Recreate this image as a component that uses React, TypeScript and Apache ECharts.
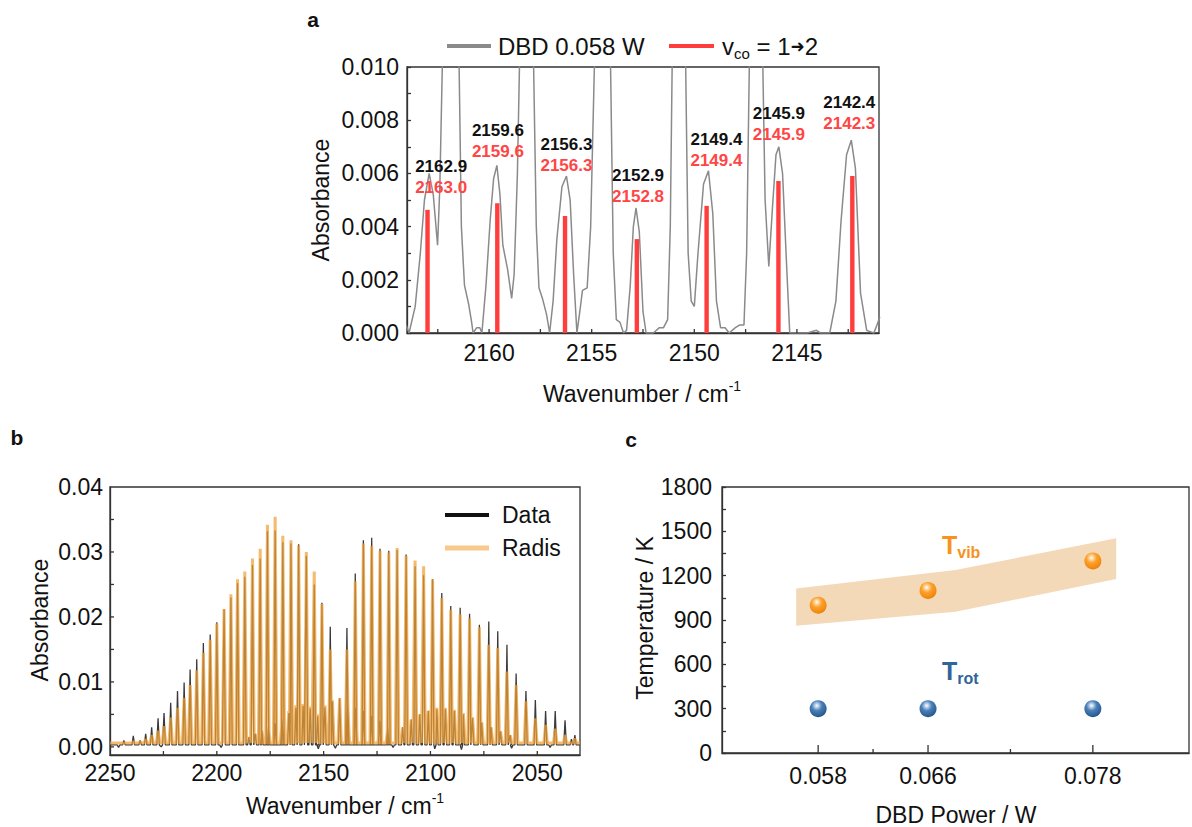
import React, { useEffect, useRef } from 'react';
import * as echarts from 'echarts';

const FONT = '"Liberation Sans", Arial, Helvetica, sans-serif';
const INK = '#111111';
const AXIS = '#333333';

// ---------- Panel a : DBD 0.058 W spectrum (wavenumber, absorbance) ----------
const aTrace: [number, number][] = [
  [2164.04, 0.0003], [2163.9, 0.0], [2163.6, 0.001], [2163.35, 0.003], [2163.15, 0.005],
  [2162.92, 0.006], [2162.72, 0.0052], [2162.51, 0.0033], [2162.4, 0.0055], [2162.28, 0.01],
  [2162.2, 0.015], [2161.87, 0.03], [2161.55, 0.015], [2161.46, 0.01], [2161.35, 0.004],
  [2161.2, 0.0018], [2161.0, 0.0011], [2160.85, 0.0004], [2160.78, 0.0], [2160.6, 0.0002],
  [2160.45, 0.0002], [2160.35, 0.0], [2160.15, 0.0018], [2159.95, 0.0042], [2159.78, 0.0058],
  [2159.62, 0.0063], [2159.47, 0.0052], [2159.33, 0.0033], [2159.1, 0.0024], [2158.9, 0.0013],
  [2158.78, 0.0022], [2158.62, 0.006], [2158.52, 0.01], [2158.45, 0.015], [2158.17, 0.03],
  [2157.9, 0.015], [2157.83, 0.01], [2157.7, 0.004], [2157.57, 0.0017], [2157.4, 0.0013],
  [2157.2, 0.0007], [2157.05, 0.0], [2156.88, 0.0012], [2156.7, 0.0035], [2156.45, 0.0055],
  [2156.23, 0.0059], [2156.05, 0.005], [2155.88, 0.0022], [2155.72, 0.0], [2155.58, 0.0008],
  [2155.45, 0.0016], [2155.22, 0.0017], [2155.05, 0.004], [2154.87, 0.01], [2154.8, 0.015],
  [2154.47, 0.03], [2154.15, 0.015], [2154.08, 0.01], [2153.95, 0.003], [2153.8, 0.0005],
  [2153.62, 0.0004], [2153.45, 0.0], [2153.3, 0.0001], [2153.12, 0.0018], [2152.97, 0.004],
  [2152.84, 0.0047], [2152.68, 0.0038], [2152.5, 0.0008], [2152.35, 0.0], [2152.0, 0.0],
  [2151.7, 0.0002], [2151.5, 0.0002], [2151.3, 0.0005], [2151.17, 0.004], [2151.08, 0.01],
  [2151.02, 0.015], [2150.75, 0.03], [2150.48, 0.015], [2150.42, 0.01], [2150.3, 0.003],
  [2150.15, 0.0012], [2150.0, 0.001], [2149.82, 0.003], [2149.55, 0.0056], [2149.31, 0.0061],
  [2149.1, 0.0045], [2148.92, 0.0012], [2148.72, 0.0002], [2148.5, 0.0002], [2148.3, 0.0],
  [2148.0, 0.0002], [2147.8, 0.0003], [2147.58, 0.0003], [2147.45, 0.003], [2147.32, 0.01],
  [2147.25, 0.015], [2146.97, 0.03], [2146.72, 0.015], [2146.66, 0.01], [2146.55, 0.005],
  [2146.37, 0.0025], [2146.2, 0.0046], [2146.02, 0.0067], [2145.88, 0.007], [2145.7, 0.006],
  [2145.5, 0.0025], [2145.35, 0.0], [2144.5, 0.0], [2144.05, 0.0001], [2143.85, 0.0],
  [2143.4, 0.0], [2143.1, 0.0012], [2142.85, 0.0042], [2142.58, 0.0067], [2142.35, 0.00725],
  [2142.15, 0.0062], [2141.9, 0.0015], [2141.6, 0.0001], [2141.25, 0.0], [2141.1, 0.0003],
  [2140.96, 0.0006],
];
const aBarPos = [2163.0, 2159.6, 2156.3, 2152.8, 2149.4, 2145.9, 2142.3];
const aBarHeight = [0.00463, 0.00488, 0.0044, 0.00353, 0.00478, 0.00571, 0.0059];
const aPeakPos = [2162.92, 2159.62, 2156.23, 2152.84, 2149.31, 2145.88, 2142.35];
const aPeakHeight = [0.006, 0.0063, 0.0059, 0.0047, 0.0061, 0.007, 0.00725];
const aPeakLabelBlack = ['2162.9', '2159.6', '2156.3', '2152.9', '2149.4', '2145.9', '2142.4'];
const aPeakLabelRed = ['2163.0', '2159.6', '2156.3', '2152.8', '2149.4', '2145.9', '2142.3'];
const aXLabels = [2160, 2155, 2150, 2145];
const aXTicks = [2162.5, 2160, 2157.5, 2155, 2152.5, 2150, 2147.5, 2145, 2142.5];

// ---------- Panel b : CO band, measured vs Radis ----------
const bMainPos = [
  2239.1, 2235.9, 2233.3, 2230.5, 2227.5, 2224.7, 2221.6, 2218.4, 2215.3, 2212.5,
  2209.4, 2206.3, 2203.1, 2200.0, 2196.6, 2193.4, 2190.3, 2186.9, 2183.3, 2179.7,
  2176.3, 2172.7, 2169.1, 2165.3, 2161.7, 2158.1, 2154.4, 2150.8, 2146.9,
  2139.1, 2135.2, 2131.4, 2127.5, 2123.6, 2119.5, 2115.6, 2111.4, 2107.2, 2103.2,
  2099.0, 2094.7, 2090.5, 2086.1, 2081.7, 2077.1, 2072.7, 2068.5, 2064.2, 2059.9,
  2055.3, 2050.9, 2046.1, 2041.6, 2037.0, 2032.4,
];
const bDataMain = [
  0.0017, 0.001, 0.002, 0.003, 0.0044, 0.0052, 0.0068, 0.0086, 0.0099, 0.0119,
  0.0135, 0.016, 0.0173, 0.0192, 0.0212, 0.023, 0.0252, 0.0262, 0.028, 0.029,
  0.0332, 0.0333, 0.0315, 0.0313, 0.0312, 0.0294, 0.025, 0.0222, 0.0185,
  0.0183, 0.0267, 0.0318, 0.0322, 0.0305, 0.0302, 0.0303, 0.0296, 0.0278, 0.0264,
  0.0258, 0.0237, 0.0217, 0.0214, 0.0205, 0.0188, 0.0193, 0.0178, 0.0157, 0.0113,
  0.0086, 0.0072, 0.0055, 0.0055, 0.0041, 0.0018,
];
const bRadisMain = [
  0.0008, 0.0008, 0.0012, 0.0018, 0.0025, 0.0032, 0.0045, 0.006, 0.0075, 0.0095,
  0.0118, 0.0145, 0.0165, 0.019, 0.0212, 0.0235, 0.0258, 0.027, 0.029, 0.0305,
  0.0342, 0.0354, 0.0325, 0.0318, 0.031, 0.03, 0.027, 0.022, 0.015,
  0.015, 0.0255, 0.0313, 0.0309, 0.0302, 0.0299, 0.0306, 0.0294, 0.0287, 0.0278,
  0.0258, 0.0229, 0.0211, 0.0204, 0.0198, 0.0184, 0.0157, 0.0152, 0.0116, 0.0095,
  0.007, 0.0044, 0.0034, 0.0028, 0.0018, 0.0013,
];
const bHotPos = [
  2185.0, 2182.0, 2178.9, 2175.8, 2172.7, 2169.5, 2166.3, 2163.0, 2159.6, 2156.3,
  2152.8, 2149.4, 2145.9, 2142.5, 2138.7, 2135.0, 2131.3, 2127.6, 2123.8, 2120.0,
  2113.0, 2109.0, 2105.0, 2101.0, 2097.0, 2093.0, 2088.8, 2084.6, 2080.3, 2076.0,
  2071.6, 2067.2, 2062.7,
];
const bDataHot = [
  0.0015, 0.002, 0.0025, 0.003, 0.0036, 0.0042, 0.0052, 0.006, 0.0063, 0.0059,
  0.0047, 0.0061, 0.007, 0.0075, 0.0065, 0.006, 0.0055, 0.0048, 0.004, 0.003,
  0.003, 0.0042, 0.005, 0.0055, 0.0058, 0.0058, 0.0055, 0.005, 0.0044, 0.0037,
  0.003, 0.0024, 0.0018,
];
const bRadisHot = [
  0.0015, 0.002, 0.0025, 0.003, 0.0036, 0.0044, 0.0055, 0.0064, 0.0066, 0.0062,
  0.005, 0.0064, 0.0072, 0.0075, 0.0066, 0.006, 0.0055, 0.0048, 0.004, 0.003,
  0.003, 0.0042, 0.005, 0.0056, 0.006, 0.006, 0.0057, 0.0052, 0.0046, 0.0038,
  0.003, 0.0024, 0.0018,
];
const bNoisePos = [2246.0, 2243.5, 2226.0, 2198.0, 2152.5, 2144.5, 2117.5, 2098.0, 2085.5, 2062.0, 2044.0, 2034.0];
const bNoiseVal = [-0.0004, 0.0007, -0.0003, -0.0004, -0.0006, -0.0005, -0.0004, -0.0006, -0.0007, -0.0005, -0.0004, 0.0009];
const bXTicks = [2225, 2200, 2175, 2150, 2125, 2100, 2075, 2050];
const bYTicks = [0, 0.005, 0.01, 0.015, 0.02, 0.025, 0.03, 0.035];

// ---------- Panel c : temperatures ----------
const cPower = [0.058, 0.066, 0.078];
const cTvib = [1000, 1100, 1300];
const cTrot = [300, 300, 300];
const cBandX = [0.0564, 0.068, 0.0797];
const cBandUpper = [1114, 1238, 1453];
const cBandLower = [861, 956, 1177];
const cMinorTicks = [0.062, 0.072];

const isMult = (v: number, step: number) => Math.abs(v / step - Math.round(v / step)) < 1e-6;

function stick(pos: number[], h: number[], hw: number, base: number, lo: number, hi: number) {
  const pts = pos.map((p, i) => [p, h[i]]).sort((a, b) => b[0] - a[0]);
  const out: number[][] = [[hi, base]];
  for (const [p, v] of pts) out.push([p + hw, base], [p, v], [p - hw, base]);
  out.push([lo, base]);
  return out;
}

const tickLabel = (size = 23) => ({ fontSize: size, color: INK, fontFamily: FONT });
const axisLineStyle = { color: AXIS, width: 1.3 };

function sphere(c: string[]) {
  return new echarts.graphic.RadialGradient(0.42, 0.32, 0.72, [
    { offset: 0, color: '#ffffff' },
    { offset: 0.16, color: c[0] },
    { offset: 0.42, color: c[1] },
    { offset: 0.85, color: c[2] },
    { offset: 1, color: c[3] },
  ]);
}

function xTickSeries(axis: number, vals: number[], yBase: number, len: number) {
  return {
    type: 'custom', xAxisIndex: axis, yAxisIndex: axis, z: 6, clip: false,
    data: vals.map((v) => [v, yBase]),
    renderItem: (params: any, api: any) => {
      const p = api.coord([api.value(0), api.value(1)]);
      return { type: 'line', shape: { x1: p[0], y1: p[1], x2: p[0], y2: p[1] - len }, style: { stroke: AXIS, lineWidth: 1.3 } };
    },
  };
}
function yTickSeries(axis: number, vals: number[], xBase: number, len: number) {
  return {
    type: 'custom', xAxisIndex: axis, yAxisIndex: axis, z: 6, clip: false,
    data: vals.map((v) => [xBase, v]),
    renderItem: (params: any, api: any) => {
      const p = api.coord([api.value(0), api.value(1)]);
      return { type: 'line', shape: { x1: p[0], y1: p[1], x2: p[0] + len, y2: p[1] }, style: { stroke: AXIS, lineWidth: 1.3 } };
    },
  };
}

function buildOption() {
  const bLo = 2030, bHi = 2250;
  const bData = stick(
    [...bMainPos, ...bHotPos, ...bNoisePos],
    [...bDataMain, ...bDataHot, ...bNoiseVal.map((v) => v + 0.0003)],
    0.6, 0.0003, bLo, bHi,
  );
  const bRadis = stick([...bMainPos, ...bHotPos], [...bRadisMain, ...bRadisHot], 0.8, 0.0006, bLo, bHi);

  const labelOffsets = [[12, 27], [1, -1], [0, 2], [2, 1], [8, 2], [0, 0], [-2, -4]];

  const text = (x: number, y: number, t: string, extra: any = {}, rot = 0) => ({
    type: 'text', x, y, rotation: rot,
    style: { text: t, fontFamily: FONT, fontSize: 23, fill: INK, align: 'center', verticalAlign: 'middle', ...extra },
  });
  const wavenumberName = (x: number, y: number) => ({
    type: 'text', x, y,
    style: {
      text: '{n|Wavenumber / cm}{s|-1}', align: 'center', verticalAlign: 'middle',
      rich: {
        n: { fontSize: 23, fontFamily: FONT, fill: INK, lineHeight: 30 },
        s: { fontSize: 14, fontFamily: FONT, fill: INK, lineHeight: 14, verticalAlign: 'top' },
      },
    },
  });
  const tempLabel = (x: number, y: number, sub: string, color: string) => ({
    type: 'text', x, y,
    style: {
      text: `{t|T}{s|${sub}}`, align: 'left', verticalAlign: 'middle',
      rich: {
        t: { fontSize: 25, fontFamily: FONT, fill: color, fontWeight: 'bold', lineHeight: 30 },
        s: { fontSize: 16, fontFamily: FONT, fill: color, fontWeight: 'bold', lineHeight: 16, verticalAlign: 'bottom' },
      },
    },
  });

  const gridBase = { show: true, borderColor: AXIS, borderWidth: 1.3, backgroundColor: 'transparent' };

  return {
    animation: false,
    backgroundColor: '#ffffff',
    textStyle: { fontFamily: FONT },
    grid: [
      { left: 407, top: 67, width: 472, height: 266, ...gridBase },
      { left: 110, top: 487, width: 470, height: 268, ...gridBase },
      { left: 722, top: 487, width: 468, height: 266, ...gridBase },
    ],
    xAxis: [
      {
        type: 'value', gridIndex: 0, min: 2141, max: 2164, inverse: true, interval: 0.5,
        axisLine: { show: true, onZero: false, lineStyle: axisLineStyle },
        axisTick: { show: false }, splitLine: { show: false },
        axisLabel: { ...tickLabel(), margin: 8, formatter: (v: number) => (aXLabels.some((t) => Math.abs(t - v) < 1e-6) ? String(Math.round(v)) : '') },
      },
      {
        type: 'value', gridIndex: 1, min: bLo, max: bHi, inverse: true, interval: 5,
        axisLine: { show: true, onZero: false, lineStyle: axisLineStyle },
        axisTick: { show: false }, splitLine: { show: false },
        axisLabel: { ...tickLabel(), margin: 6, formatter: (v: number) => (isMult(v, 50) ? String(Math.round(v)) : '') },
      },
      {
        type: 'value', gridIndex: 2, min: 0.051, max: 0.085, interval: 0.001,
        axisLine: { show: true, onZero: false, lineStyle: axisLineStyle },
        axisTick: { show: false }, splitLine: { show: false },
        axisLabel: { ...tickLabel(), margin: 11, formatter: (v: number) => (cPower.some((p) => Math.abs(p - v) < 1e-7) ? v.toFixed(3) : '') },
      },
    ],
    yAxis: [
      {
        type: 'value', gridIndex: 0, min: 0, max: 0.01, interval: 0.001,
        axisLine: { show: true, onZero: false, lineStyle: axisLineStyle },
        axisTick: { show: true, inside: true, length: 4, lineStyle: axisLineStyle },
        splitLine: { show: false },
        axisLabel: { ...tickLabel(), margin: 8, formatter: (v: number) => (isMult(v, 0.002) ? v.toFixed(3) : '') },
      },
      {
        type: 'value', gridIndex: 1, min: -0.00125, max: 0.04, interval: 0.00125,
        axisLine: { show: true, onZero: false, lineStyle: axisLineStyle },
        axisTick: { show: false }, splitLine: { show: false },
        axisLabel: {
          ...tickLabel(), margin: 7,
          formatter: (v: number) => (Math.abs(v) < 1e-9 ? '0.00' : v > 0 && isMult(v, 0.01) ? v.toFixed(2) : ''),
        },
      },
      {
        type: 'value', gridIndex: 2, min: 0, max: 1800, interval: 150,
        axisLine: { show: true, onZero: false, lineStyle: axisLineStyle },
        axisTick: { show: true, inside: true, length: 4, lineStyle: axisLineStyle },
        splitLine: { show: false },
        axisLabel: { ...tickLabel(), margin: 10, formatter: (v: number) => (isMult(v, 300) ? String(v) : '') },
      },
    ],
    series: [
      {
        type: 'line', xAxisIndex: 0, yAxisIndex: 0, data: aTrace, showSymbol: false, clip: true,
        lineStyle: { color: '#8a8a8a', width: 1.5 }, z: 2,
      },
      {
        type: 'custom', xAxisIndex: 0, yAxisIndex: 0, z: 3,
        data: aBarPos.map((p, i) => [p, aBarHeight[i]]),
        renderItem: (params: any, api: any) => {
          const p0 = api.coord([api.value(0), 0]);
          const p1 = api.coord([api.value(0), api.value(1)]);
          return { type: 'rect', shape: { x: p0[0] - 2.2, y: p1[1], width: 4.4, height: p0[1] - p1[1] }, style: { fill: '#ff3d3d' } };
        },
      },
      {
        type: 'custom', xAxisIndex: 0, yAxisIndex: 0, z: 5, clip: false,
        data: aPeakPos.map((p, i) => [p, aPeakHeight[i]]),
        renderItem: (params: any, api: any) => {
          const i = params.dataIndex;
          const p = api.coord([api.value(0), api.value(1)]);
          const off = labelOffsets[i];
          return {
            type: 'text', x: p[0] + off[0], y: p[1] - 2 + off[1],
            style: {
              text: `{b|${aPeakLabelBlack[i]}}\n{r|${aPeakLabelRed[i]}}`,
              align: 'center', verticalAlign: 'bottom',
              rich: {
                b: { fill: INK, fontWeight: 'bold', fontSize: 17, lineHeight: 21, fontFamily: FONT, align: 'center' },
                r: { fill: '#ff4545', fontWeight: 'bold', fontSize: 17, lineHeight: 21, fontFamily: FONT, align: 'center' },
              },
            },
          };
        },
      },
      xTickSeries(0, aXTicks, 0, 4),
      {
        type: 'line', xAxisIndex: 1, yAxisIndex: 1, data: bData, showSymbol: false, clip: true,
        lineStyle: { color: '#3a3a3a', width: 1.3 }, z: 2,
      },
      {
        type: 'line', xAxisIndex: 1, yAxisIndex: 1, data: bRadis, showSymbol: false, clip: true,
        lineStyle: { color: '#f0a034', width: 3, opacity: 0.72 }, z: 3,
      },
      xTickSeries(1, bXTicks, -0.00125, 4),
      yTickSeries(1, bYTicks, 2250, 4),
      {
        type: 'custom', xAxisIndex: 2, yAxisIndex: 2, z: 1, data: [[cBandX[0], cBandUpper[0]]],
        renderItem: (params: any, api: any) => {
          const up = cBandX.map((x, i) => api.coord([x, cBandUpper[i]]));
          const low = cBandX.map((x, i) => api.coord([x, cBandLower[i]])).reverse();
          return { type: 'polygon', shape: { points: [...up, ...low] }, style: { fill: '#f3d9b8' } };
        },
      },
      {
        type: 'scatter', xAxisIndex: 2, yAxisIndex: 2, z: 4, symbolSize: 17,
        data: cPower.map((p, i) => [p, cTvib[i]]),
        itemStyle: { color: sphere(['#ffd9a0', '#fca030', '#f28a0a', '#d87200']), opacity: 1 },
      },
      {
        type: 'scatter', xAxisIndex: 2, yAxisIndex: 2, z: 4, symbolSize: 17,
        data: cPower.map((p, i) => [p, cTrot[i]]),
        itemStyle: { color: sphere(['#b9d0ea', '#4a80b8', '#2c5f94', '#1d4675']), opacity: 1 },
      },
      xTickSeries(2, cPower, 0, 8),
      xTickSeries(2, cMinorTicks, 0, 4),
    ],
    graphic: [
      text(313, 19, 'a', { fontWeight: 'bold', fontSize: 21 }),
      text(17, 437, 'b', { fontWeight: 'bold', fontSize: 21 }),
      text(631, 439, 'c', { fontWeight: 'bold', fontSize: 21 }),
      { type: 'line', shape: { x1: 447, y1: 46, x2: 491, y2: 46 }, style: { stroke: '#8a8a8a', lineWidth: 4 } },
      text(498, 46, 'DBD 0.058 W', { align: 'left', fontSize: 24 }),
      { type: 'line', shape: { x1: 669, y1: 46, x2: 714, y2: 46 }, style: { stroke: '#ff3d3d', lineWidth: 4 } },
      {
        type: 'text', x: 722, y: 46,
        style: {
          text: '{n|v}{s|co}{n| = 1}{a|\u279C}{n|2}', align: 'left', verticalAlign: 'middle',
          rich: {
            n: { fontSize: 24, fontFamily: FONT, fill: INK, lineHeight: 30 },
            s: { fontSize: 15, fontFamily: FONT, fill: INK, lineHeight: 15, verticalAlign: 'bottom' },
            a: { fontSize: 17, fontFamily: '"DejaVu Sans", sans-serif', fill: INK, lineHeight: 30 },
          },
        },
      },
      text(321, 200, 'Absorbance', {}, Math.PI / 2),
      wavenumberName(642, 394),
      { type: 'line', shape: { x1: 445, y1: 515, x2: 489, y2: 515 }, style: { stroke: '#111111', lineWidth: 4 } },
      text(502, 515, 'Data', { align: 'left' }),
      { type: 'line', shape: { x1: 445, y1: 548, x2: 489, y2: 548 }, style: { stroke: '#f8c88c', lineWidth: 5 } },
      text(502, 548, 'Radis', { align: 'left' }),
      text(40, 620, 'Absorbance', {}, Math.PI / 2),
      wavenumberName(345, 806),
      text(645, 618, 'Temperature / K', {}, Math.PI / 2),
      text(956, 815, 'DBD Power / W'),
      tempLabel(942, 545, 'vib', '#f7921e'),
      tempLabel(942, 671, 'rot', '#2f6599'),
    ],
  };
}

export default function App() {
  const ref = useRef<HTMLDivElement>(null);
  useEffect(() => {
    if (!ref.current) return;
    const chart = echarts.init(ref.current, undefined, { renderer: 'svg' });
    chart.setOption(buildOption() as any);
    return () => chart.dispose();
  }, []);
  return (
    <div
      ref={ref}
      style={{ position: 'fixed', left: 0, top: 0, width: 1192, height: 827, background: '#ffffff' }}
    />
  );
}
